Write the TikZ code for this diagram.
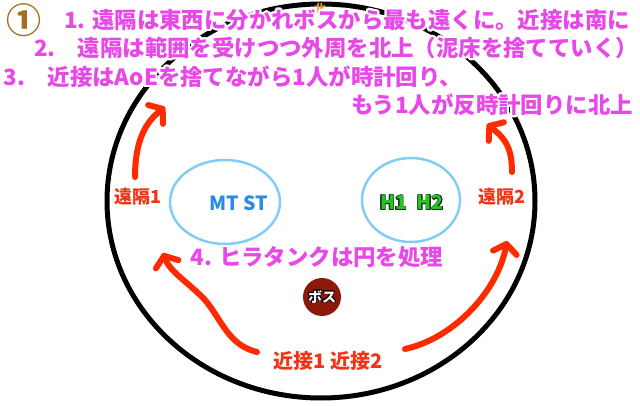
\documentclass[tikz,border=0pt]{standalone}
\usepackage{fontspec}
\setmainfont{Noto Sans CJK JP}
\usepackage{contour}
\contourlength{2pt}
\usetikzlibrary{
    shapes.geometric,
    arrows.meta,
    positioning
}
\definecolor{pinktext}{RGB}{232,72,232}
\definecolor{redlabel}{RGB}{240,52,22}
\definecolor{arrowred}{RGB}{255,42,0}
\definecolor{zoneblue}{RGB}{130,205,245}
\definecolor{mtblue}{RGB}{40,140,230}
\definecolor{healgreen}{RGB}{30,200,30}
\definecolor{bossred}{RGB}{140,25,10}
\definecolor{numbrown}{RGB}{165,110,30}
\definecolor{northorange}{RGB}{240,150,40}

\begin{document}
\begin{tikzpicture}[
                x=1pt, y=-1pt,
                note/.style={inner sep=0pt, font=\bfseries\fontsize{22.4}{26}\selectfont, text=pinktext},
                tag/.style={inner sep=1pt, font=\bfseries\fontsize{18}{22}\selectfont, text=redlabel},
                zone/.style={draw=zoneblue, line width=2.5pt, ellipse, minimum width=110pt, minimum height=84pt},
                role/.style={inner sep=0pt, font=\bfseries\fontsize{19.5}{22}\selectfont},
                move/.style={draw=arrowred, line width=6pt, line cap=round, -{Straight Barb[length=9pt, width=24pt, round]}}
            ]
                \useasboundingbox (0,0) rectangle (640,406);

                % Arena
                \draw[line width=5pt] (321,201) ellipse (214 and 197);
                \node[inner sep=0pt, font=\bfseries\fontsize{12}{12}\selectfont, text=northorange] (north) at (320,9) {北};

                % Steps
                \node[inner sep=0pt, font=\bfseries\fontsize{35}{35}\selectfont, text=numbrown] (num) at (24,21) {\contour{white}{①}};
                \node[note] (step1) at (347,21) {\contour{white}{1. 遠隔は東西に分かれボスから最も遠くに。近接は南に}};
                \node[note] (step2) at (336,49) {\contour{white}{2.　遠隔は範囲を受けつつ外周を北上（泥床を捨てていく）}};
                \node[note] (step3) at (233,78) {\contour{white}{3.　近接はAoEを捨てながら1人が時計回り、}};
                \node[note] (step3b) at (492,106) {\contour{white}{もう1人が反時計回りに北上}};

                % Tanks and healers
                \node[zone] (tankzone) at (225,202) {};
                \node[zone, minimum width=98pt] (healzone) at (411,200) {};
                \node[role, text=mtblue] (tanks) at (239,203) {MT ST};
                \node[role, text=healgreen] (healers) at (412,203) {\contourlength{0.7pt}\contour{black!85}{H1\enspace H2}};
                \node[note, font=\bfseries\fontsize{22.4}{25}\selectfont] (step4) at (317,258) {\contour{white}{4. ヒラタンクは円を処理}};

                % Boss
                \node[circle, fill=bossred, minimum size=38pt, inner sep=0pt, text=white,
                      font=\bfseries\fontsize{14}{14}\selectfont] (boss) at (322,297) {\contourlength{0.8pt}\contour{black}{ボス}};

                % Players
                \node[tag] (far1) at (138,198) {\contour{white}{遠隔1}};
                \node[tag] (far2) at (502,198) {\contour{white}{遠隔2}};
                \node[tag, font=\bfseries\fontsize{20}{22}\selectfont] (melee) at (328,362) {\contour{white}{近接1 近接2}};

                % Movement
                \coordinate (far1from) at (135,177);
                \coordinate (far1to) at (165,107);
                \coordinate (far2from) at (512,172);
                \coordinate (far2to) at (487,124);
                \coordinate (melee1from) at (257,352);
                \coordinate (melee1to) at (163,253);
                \coordinate (melee2from) at (405,349);
                \coordinate (melee2to) at (507,241);

                \draw[move] (far1from) .. controls (135,140) and (146,122) .. (far1to);
                \draw[move] (far2from) .. controls (512,145) and (503,137) .. (far2to);
                \draw[move] (melee1from) .. controls (228,345) and (222,320) .. (205,300)
                    .. controls (188,282) and (170,272) .. (melee1to);
                \draw[move] (melee2from) .. controls (455,338) and (498,290) .. (melee2to);
            \end{tikzpicture}
\end{document}
